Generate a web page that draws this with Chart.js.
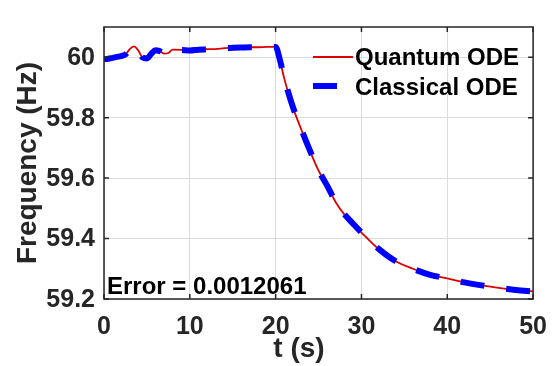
<!DOCTYPE html>
<html>
<head>
<meta charset="utf-8">
<script src="https://cdn.jsdelivr.net/npm/chart.js@4.4.1/dist/chart.umd.min.js"></script>
<style>
  html, body { margin: 0; padding: 0; background: #fff; }
  #wrap { width: 560px; height: 366px; }
</style>
</head>
<body>
<div id="wrap"><canvas id="freqChart" width="560" height="366"></canvas></div>
<script>
// time (s) and frequency (Hz)
const timeS = [0, 0.5, 1, 1.5, 2, 2.5, 3, 3.5, 4, 4.5, 5, 5.5, 6, 6.5, 7, 7.5, 8, 9, 10,
  11, 12, 13, 14, 15, 16, 17, 18, 19, 20, 20.5, 21, 21.5, 22, 23, 24, 25, 26, 27, 28, 29, 30,
  32, 34, 36, 38, 40, 42, 44, 46, 48, 50];
const quantumFreq = [59.994, 59.996, 59.998, 60.000, 60.003, 60.008, 60.027, 60.036, 60.022, 59.998,
  59.995, 60.012, 60.024, 60.020, 60.012, 60.014, 60.025, 60.024, 60.022,
  60.025, 60.027, 60.027, 60.030, 60.031, 60.032, 60.033, 60.033, 60.034, 60.034, 59.99,
  59.93, 59.88, 59.835, 59.76, 59.69, 59.625, 59.575, 59.52, 59.48, 59.45, 59.42,
  59.365, 59.325, 59.30, 59.28, 59.268, 59.255, 59.245, 59.237, 59.23, 59.225];
const classicalFreq = [59.993, 59.995, 59.998, 60.001, 60.004, 60.009, 60.026, 60.034, 60.021, 59.999,
  59.996, 60.011, 60.023, 60.020, 60.013, 60.015, 60.024, 60.024, 60.022,
  60.025, 60.026, 60.027, 60.030, 60.031, 60.032, 60.033, 60.033, 60.034, 60.034, 59.991,
  59.931, 59.881, 59.836, 59.761, 59.691, 59.626, 59.575, 59.521, 59.481, 59.45, 59.42,
  59.366, 59.325, 59.30, 59.28, 59.268, 59.255, 59.245, 59.237, 59.23, 59.225];

const xTicks = [0, 10, 20, 30, 40, 50];
const yTicks = [59.2, 59.4, 59.6, 59.8, 60];
const seriesNames = ['Quantum ODE', 'Classical ODE'];
const errorLabel = 'Error = 0.0012061';

const RED = '#dd0000';
const BLUE = '#0000ff';
const INK = '#262626';
const FONT = '"Liberation Sans", Arial, sans-serif';

const toPoints = (ys) => timeS.map((t, i) => ({ x: t, y: ys[i] }));

// frame, inward ticks, legend, error note and axis titles
const decorations = {
  id: 'decorations',
  afterDatasetsDraw(chart) {
    const { ctx, chartArea: a, scales: { x, y } } = chart;
    ctx.save();
    ctx.strokeStyle = INK;
    ctx.lineWidth = 1.5;
    ctx.strokeRect(a.left, a.top, a.right - a.left, a.bottom - a.top);

    ctx.beginPath();
    xTicks.forEach(v => {
      const px = x.getPixelForValue(v);
      ctx.moveTo(px, a.bottom); ctx.lineTo(px, a.bottom - 5);
      ctx.moveTo(px, a.top); ctx.lineTo(px, a.top + 5);
    });
    yTicks.forEach(v => {
      const py = y.getPixelForValue(v);
      ctx.moveTo(a.left, py); ctx.lineTo(a.left + 5, py);
      ctx.moveTo(a.right, py); ctx.lineTo(a.right - 5, py);
    });
    ctx.stroke();

    // legend (no box)
    ctx.lineCap = 'butt';
    ctx.strokeStyle = RED;
    ctx.lineWidth = 1.8;
    ctx.beginPath(); ctx.moveTo(313, 57); ctx.lineTo(353, 57); ctx.stroke();
    ctx.strokeStyle = BLUE;
    ctx.lineWidth = 6;
    ctx.beginPath(); ctx.moveTo(313, 86); ctx.lineTo(337, 86); ctx.stroke();

    ctx.fillStyle = '#000';
    ctx.font = 'bold 24px ' + FONT;
    ctx.textAlign = 'left';
    ctx.textBaseline = 'alphabetic';
    ctx.fillText(seriesNames[0], 355, 65);
    ctx.fillText(seriesNames[1], 355, 95);

    ctx.fillText(errorLabel, 107, 294);

    // axis titles
    ctx.fillStyle = INK;
    ctx.font = 'bold 28px ' + FONT;
    ctx.textAlign = 'center';
    ctx.fillText('t (s)', 299, 357);
    ctx.save();
    ctx.translate(36, 163);
    ctx.rotate(-Math.PI / 2);
    ctx.fillText('Frequency (Hz)', 0, 0);
    ctx.restore();

    ctx.restore();
  }
};

new Chart(document.getElementById('freqChart'), {
  type: 'line',
  data: {
    datasets: [
      {
        label: seriesNames[0],
        data: toPoints(quantumFreq),
        borderColor: RED,
        borderWidth: 1.8,
        pointRadius: 0,
        cubicInterpolationMode: 'monotone',
        order: 1
      },
      {
        label: seriesNames[1],
        data: toPoints(classicalFreq),
        borderColor: BLUE,
        borderWidth: 6,
        borderDash: [24, 22],
        pointRadius: 0,
        cubicInterpolationMode: 'monotone',
        order: 0
      }
    ]
  },
  options: {
    responsive: false,
    animation: false,
    layout: { padding: { top: 27, right: 26, left: 0, bottom: 0 } },
    plugins: { legend: { display: false }, tooltip: { enabled: false } },
    scales: {
      x: {
        type: 'linear',
        min: 0,
        max: 50,
        afterBuildTicks: (s) => { s.ticks = xTicks.map(v => ({ value: v })); },
        afterFit: (s) => { s.height = 67; },
        border: { display: false },
        grid: { color: '#dcdcdc', lineWidth: 1, drawTicks: false },
        ticks: {
          autoSkip: false,
          maxRotation: 0,
          padding: 13,
          color: INK,
          font: { family: FONT, size: 25, weight: 'bold' }
        }
      },
      y: {
        type: 'linear',
        min: 59.2,
        max: 60.1,
        afterBuildTicks: (s) => { s.ticks = yTicks.map(v => ({ value: v })); },
        afterFit: (s) => { s.width = 104; },
        border: { display: false },
        grid: { color: '#dcdcdc', lineWidth: 1, drawTicks: false },
        ticks: {
          padding: 9,
          labelOffset: 1,
          color: INK,
          font: { family: FONT, size: 25, weight: 'bold' },
          callback: (v) => String(+v.toFixed(1))
        }
      }
    }
  },
  plugins: [decorations]
});
</script>
</body>
</html>
